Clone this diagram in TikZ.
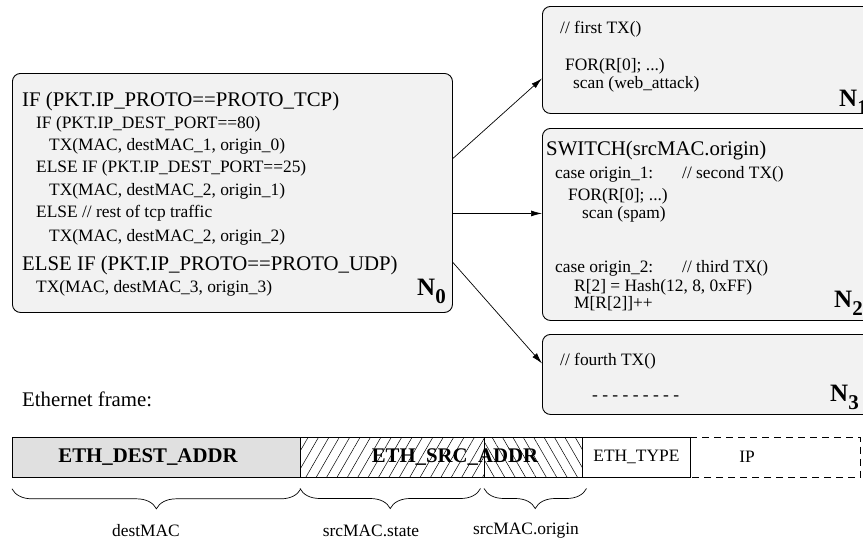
\documentclass[tikz,border=0pt]{standalone}
\usepackage{fontspec}
\setmainfont{Liberation Serif}
\usetikzlibrary{arrows.meta,patterns.meta,decorations.pathreplacing,calc}
\newcommand\smtxt{\fontsize{17.4}{20}\selectfont}
\newcommand\bgtxt{\fontsize{20.8}{24}\selectfont}
\newcommand\nlab[1]{\fontsize{25}{25}\selectfont\bfseries N\raisebox{-8pt}{\fontsize{21}{21}\selectfont #1}}
\begin{document}
\begin{tikzpicture}[x=1pt,y=-1pt,
  codebox/.style={draw=black, line width=0.9pt, rounded corners=8pt, fill=black!5, inner sep=0pt, anchor=north west},
  ln/.style={anchor=base west, inner sep=0pt, font=\smtxt},
  lnbig/.style={anchor=base west, inner sep=0pt, font=\bgtxt},
  nl/.style={anchor=base west, inner sep=0pt},
  arr/.style={-{Latex[length=11pt,width=6pt]}, line width=0.7pt},
  cell/.style={draw=black, line width=0.8pt, inner sep=0pt, minimum height=40pt, anchor=north west},
  brc/.style={decorate, decoration={brace, mirror, amplitude=20pt}, line width=0.7pt},
  lab/.style={font=\smtxt, inner sep=0pt}
]
\useasboundingbox (0,0) rectangle (863,539);
\clip (0,0) rectangle (863,539);

% N0
\node[codebox, minimum width=440pt, minimum height=239pt] (n0) at (12,73) {};
\node[lnbig] (a1) at (22,106.5) {IF (PKT.IP\_PROTO==PROTO\_TCP)};
\node[ln] (a2) at (36,128) {IF (PKT.IP\_DEST\_PORT==80)};
\node[ln] (a3) at (49,150) {TX(MAC, destMAC\_1, origin\_0)};
\node[ln] (a4) at (36,172) {ELSE IF (PKT.IP\_DEST\_PORT==25)};
\node[ln] (a5) at (49,195) {TX(MAC, destMAC\_2, origin\_1)};
\node[ln] (a6) at (36,217.5) {ELSE // rest of tcp traffic};
\node[ln] (a7) at (49,241) {TX(MAC, destMAC\_2, origin\_2)};
\node[lnbig] (a8) at (22,270) {ELSE IF (PKT.IP\_PROTO==PROTO\_UDP)};
\node[ln] (a9) at (36,292) {TX(MAC, destMAC\_3, origin\_3)};
\node[nl] (l0) at (417,295) {\nlab{0}};

% N1
\node[codebox, minimum width=338pt, minimum height=107pt] (n1) at (542,6) {};
\node[ln] (b1) at (560,33.5) {// first TX()};
\node[ln] (b2) at (565,70) {FOR(R[0]; ...)};
\node[ln] (b3) at (573,88.5) {scan (web\_attack)};
\node[nl] (l1) at (839,106) {\nlab{1}};

% N2
\node[codebox, minimum width=338pt, minimum height=192pt] (n2) at (542,128) {};
\node[lnbig] (c1) at (546,155.5) {SWITCH(srcMAC.origin)};
\node[ln] (c2) at (555,178) {case origin\_1:};
\node[ln] (c2b) at (682,178) {// second TX()};
\node[ln] (c3) at (568,200) {FOR(R[0]; ...)};
\node[ln] (c4) at (582,218) {scan (spam)};
\node[ln] (c5) at (555,272) {case origin\_2:};
\node[ln] (c5b) at (682,272) {// third TX()};
\node[ln] (c6) at (574,291) {R[2] = Hash(12, 8, 0xFF)};
\node[ln] (c7) at (574,308) {M[R[2]]++};
\node[nl] (l2) at (834,307) {\nlab{2}};

% N3
\node[codebox, minimum width=338pt, minimum height=80pt] (n3) at (542,334) {};
\node[ln] (d1) at (560,365) {// fourth TX()};
\node[ln] (d2) at (592,400) {- - - - - - - - -};
\node[nl] (l3) at (830,401) {\nlab{3}};

% arrows
\draw[arr] ([yshift=34.5pt]n0.east) -- ([yshift=-18.5pt]n1.west);
\draw[arr] ([yshift=-20.5pt]n0.east) -- ([yshift=11pt]n2.west);
\draw[arr] ([yshift=-69.5pt]n0.east) -- ([yshift=11pt]n3.west);

% Ethernet frame
\node[lnbig] (ef) at (22,406.5) {Ethernet frame:};
\node[cell, fill=black!12, minimum width=288pt] (dest) at (12,437) {};
\node[cell, pattern={Lines[angle=60,distance=9pt,line width=0.5pt]}, minimum width=184pt] (sst) at (300,437) {};
\node[cell, pattern={Lines[angle=-60,distance=9pt,line width=0.5pt]}, minimum width=98pt] (sor) at (484,437) {};
\node[cell, minimum width=108pt] (typ) at (582,437) {};
\node[inner sep=0pt, minimum width=170pt, minimum height=40pt, anchor=north west] (ip) at (690,437) {};
\draw[dash pattern=on 7pt off 5pt, line width=0.8pt] (ip.north west) -- (ip.north east) -- (ip.south east) -- (ip.south west);

\node[font=\bgtxt\bfseries, inner sep=0pt] (t1) at (148,457) {ETH\_DEST\_ADDR};
\node[font=\bgtxt\bfseries, inner sep=0pt] (t2) at (455,457) {ETH\_SRC\_ADDR};
\node[font=\smtxt, inner sep=0pt] (t3) at (typ.center) {ETH\_TYPE};
\node[font=\smtxt, inner sep=0pt] (t4) at (747,457) {IP};

% braces
\draw[brc] ([yshift=-11pt]dest.south west) -- ([yshift=-11pt]dest.south east);
\draw[brc] ([yshift=-11pt]sst.south west) -- ([xshift=-4pt,yshift=-11pt]sst.south east);
\draw[brc] ([yshift=-11pt]sor.south west) -- ([xshift=4pt,yshift=-11pt]sor.south east);
\node[lab] (m1) at (146,531) {destMAC};
\node[lab] (m2) at (371,531) {srcMAC.state};
\node[lab] (m3) at (526,531) {srcMAC.origin};
\end{tikzpicture}
\end{document}
